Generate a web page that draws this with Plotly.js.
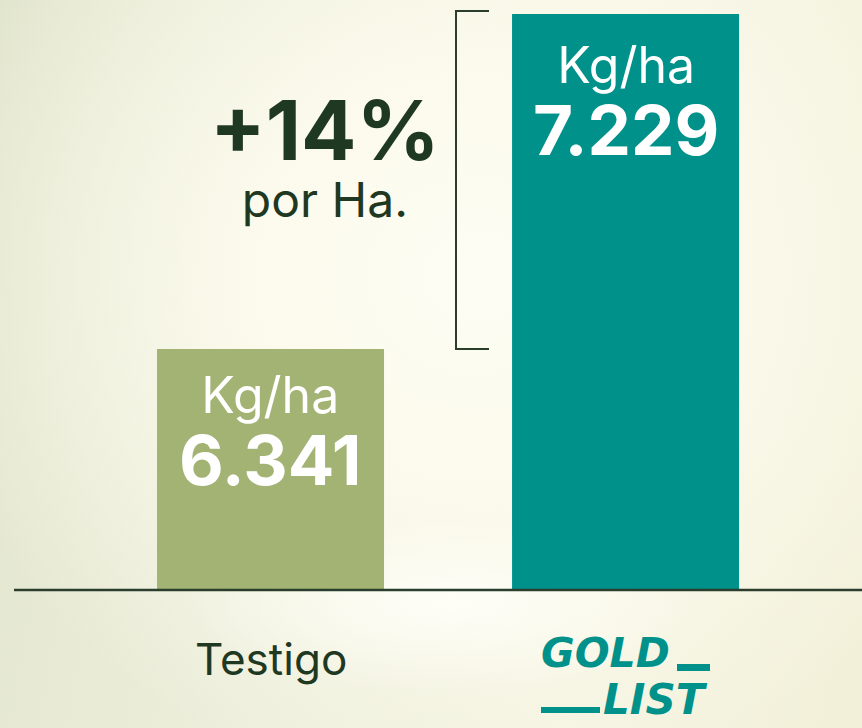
<!DOCTYPE html>
<html>
<head>
<meta charset="utf-8">
<script src="https://cdn.plot.ly/plotly-3.0.1.min.js"></script>
<style>
html,body{margin:0;padding:0;}
body{width:862px;height:728px;overflow:hidden;
background:
 radial-gradient(ellipse 260px 90px at 52% 83%, rgba(255,255,250,0.85) 0%, rgba(255,255,250,0) 100%),
 radial-gradient(ellipse 560px 520px at 55% 38%, #fefdf4 0%, #fbfaec 40%, rgba(248,247,230,0) 100%),
 linear-gradient(100deg, #e2e5cd 0%, #eceedb 35%, #f5f4e2 70%, #f2f0d8 100%);
}
#chart{width:862px;height:728px;}
</style>
</head>
<body>
<div id="chart"></div>
<script>
const categories = ["Testigo", "GOLD LIST"];
const values = [6341, 7229];
const unitLabel = "Kg/ha";
const noteLabel = "por Ha.";

const barColors = ["#a2b373", "#00928a"];
const darkGreen = "#1f3822";
const teal = "#00928a";

function fmt(v){ return String(v).replace(/\B(?=(\d{3})+(?!\d))/g, "."); }
const pct = Math.round((values[1] / values[0] - 1) * 100);

const FONT = "Inter, 'Open Sans', sans-serif";
const LOGO = "'DejaVu Sans', sans-serif";
const H = 590; // plot area height in px
const py = p => (H - p) / H; // pixel -> paper y
const labelShift = [-14, -19];

const annotations = [];
categories.forEach((c, i) => {
  annotations.push({
    x: c, y: values[i], xref: "x", yref: "y", yanchor: "top", yshift: labelShift[i],
    text: '<span style="font-size:50px">' + unitLabel + '</span><br><b><span style="font-size:69px">' + fmt(values[i]) + '</span></b>',
    showarrow: false, align: "center",
    font: {family: FONT, size: 55, color: "#ffffff"}
  });
});
annotations.push({
  x: 325/862, y: py(79), xref: "paper", yref: "paper", xanchor: "center", yanchor: "top",
  text: '<b><span style="font-size:82px">+' + pct + '%</span></b><br><span style="font-size:48px">' + noteLabel + '</span>',
  showarrow: false, align: "center",
  font: {family: FONT, size: 44, color: darkGreen}
});
annotations.push({
  x: categories[0], y: py(659), xref: "x", yref: "paper", xanchor: "center", yanchor: "middle",
  text: categories[0], showarrow: false,
  font: {family: FONT, size: 44, color: darkGreen}
});
const gl = categories[1].split(" ");
annotations.push({
  x: 539/862, y: py(653), xref: "paper", yref: "paper", xanchor: "left", yanchor: "middle",
  text: "<b><i>" + gl[0] + "</i></b>", showarrow: false,
  font: {family: LOGO, size: 41, color: teal}
});
annotations.push({
  x: 710/862, y: py(699), xref: "paper", yref: "paper", xanchor: "right", yanchor: "middle",
  text: "<b><i>" + gl[1] + "</i></b>", showarrow: false,
  font: {family: LOGO, size: 42, color: teal}
});

const lineCol = "#2b3d2c";
const bx0 = 456/862, bx1 = 489/862;
const topV = Math.max(...values) + 8, botV = Math.min(...values);
const shapes = [
  {type: "line", xref: "paper", yref: "paper", x0: 14/862, x1: 1, y0: 0, y1: 0,
   line: {color: lineCol, width: 2.5}},
  {type: "path", xref: "paper", yref: "y",
   path: `M ${bx1},${topV} L ${bx0},${topV} L ${bx0},${botV} L ${bx1},${botV}`,
   line: {color: lineCol, width: 2}},
  {type: "rect", xref: "paper", yref: "paper", x0: 677/862, x1: 710/862, y0: py(671), y1: py(664),
   fillcolor: teal, line: {width: 0}},
  {type: "rect", xref: "paper", yref: "paper", x0: 541/862, x1: 600/862, y0: py(713), y1: py(707),
   fillcolor: teal, line: {width: 0}}
];

const trace = {
  type: "bar", x: categories, y: values, width: 0.6394,
  marker: {color: barColors, line: {width: 0}},
  hoverinfo: "skip"
};

const layout = {
  width: 862, height: 728,
  margin: {l: 0, r: 0, t: 0, b: 138, pad: 0},
  paper_bgcolor: "rgba(0,0,0,0)", plot_bgcolor: "rgba(0,0,0,0)",
  showlegend: false,
  xaxis: {type: "category", range: [-0.762, 1.666], showticklabels: false, showgrid: false,
          zeroline: false, showline: false, ticks: "", fixedrange: true},
  yaxis: {range: [5702, 7266], visible: false, showgrid: false, zeroline: false, fixedrange: true},
  annotations: annotations,
  shapes: shapes
};

Plotly.newPlot("chart", [trace], layout, {displayModeBar: false, staticPlot: true});
</script>
</body>
</html>
